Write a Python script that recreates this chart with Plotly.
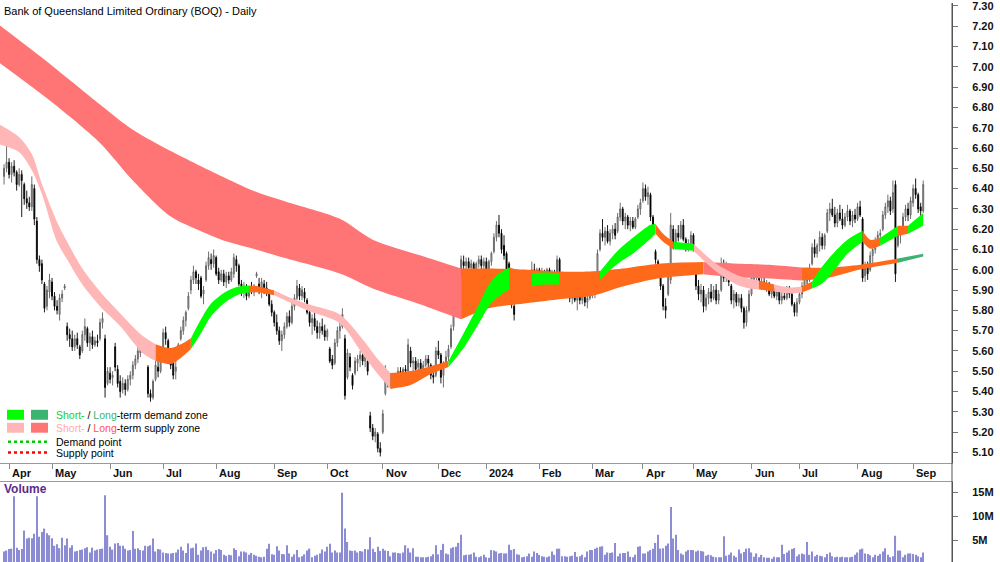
import plotly.graph_objects as go

TITLE = "Bank of Queensland Limited Ordinary (BOQ) - Daily"

# ---------------- axis categories ----------------
month_labels = ["Apr", "May", "Jun", "Jul", "Aug", "Sep", "Oct", "Nov", "Dec",
                "2024", "Feb", "Mar", "Apr", "May", "Jun", "Jul", "Aug", "Sep"]
month_start = [2, 19, 42, 63, 84, 107, 128, 150, 172, 191, 212, 233, 253, 273, 296, 315, 338, 360]

# ---------------- daily prices (trading-day index 0 = 30 Mar 2023) ----------------
opens = [
    6.46, 6.50, 6.53, 6.47, 6.51, 6.48, 6.42, 6.47, 6.42, 6.35,
    6.33, 6.31, 6.40, 6.24, 6.05, 6.03, 5.93, 5.82, 5.89, 5.94,
    5.87, 5.82, 5.78, 5.86, 5.91, 5.72, 5.68, 5.66, 5.62, 5.66,
    5.62, 5.60, 5.68, 5.71, 5.64, 5.67, 5.63, 5.65, 5.66, 5.74,
    5.66, 5.44, 5.49, 5.47, 5.62, 5.51, 5.45, 5.41, 5.44, 5.41,
    5.46, 5.48, 5.53, 5.56, 5.59, 5.61, 5.63, 5.52, 5.39, 5.37,
    5.46, 5.52, 5.50, 5.59, 5.69, 5.65, 5.59, 5.54, 5.50, 5.62,
    5.66, 5.70, 5.75, 5.81, 5.90, 5.95, 5.99, 5.95, 5.96, 5.88,
    5.95, 6.02, 6.05, 6.03, 6.06, 5.99, 5.95, 5.98, 5.94, 5.97,
    5.95, 5.98, 6.05, 6.02, 5.93, 5.90, 5.92, 5.87, 5.91, 5.89,
    5.97, 5.93, 5.90, 5.93, 5.91, 5.89, 5.83, 5.79, 5.74, 5.70,
    5.65, 5.68, 5.72, 5.77, 5.74, 5.82, 5.86, 5.91, 5.87, 5.89,
    5.85, 5.79, 5.74, 5.76, 5.72, 5.69, 5.72, 5.70, 5.67, 5.61,
    5.56, 5.54, 5.64, 5.70, 5.72, 5.66, 5.47, 5.57, 5.48, 5.49,
    5.54, 5.56, 5.58, 5.55, 5.55, 5.28, 5.22, 5.18, 5.19, 5.12,
    5.20, 5.39, 5.48, 5.45, 5.47, 5.44, 5.48, 5.50, 5.48, 5.51,
    5.50, 5.60, 5.54, 5.55, 5.52, 5.54, 5.51, 5.53, 5.56, 5.53,
    5.48, 5.48, 5.60, 5.58, 5.48, 5.53, 5.57, 5.62, 5.72, 5.82,
    5.90, 5.97, 6.04, 6.02, 6.04, 6.01, 6.03, 5.99, 6.03, 6.05,
    6.02, 6.04, 6.00, 6.04, 6.09, 6.16, 6.22, 6.18, 6.12, 6.08,
    6.03, 5.90, 5.82, 5.86, 5.95, 5.90, 5.93, 5.89, 5.92, 5.94,
    6.00, 5.97, 6.00, 5.96, 5.99, 5.96, 6.00, 5.95, 5.98, 5.97,
    6.05, 5.98, 5.92, 5.88, 5.91, 5.86, 5.88, 5.85, 5.88, 5.85,
    5.87, 5.84, 5.86, 5.89, 5.91, 5.96, 6.10, 6.18, 6.16, 6.19,
    6.14, 6.18, 6.20, 6.19, 6.26, 6.30, 6.24, 6.26, 6.22, 6.24,
    6.21, 6.26, 6.30, 6.34, 6.40, 6.36, 6.37, 6.26, 6.09, 6.04,
    5.98, 5.92, 5.82, 5.88, 5.95, 6.20, 6.13, 6.18, 6.16, 6.22,
    6.15, 6.11, 6.13, 6.17, 5.98, 5.92, 5.88, 5.90, 5.82, 5.86,
    5.89, 5.86, 5.90, 5.85, 5.90, 6.03, 5.96, 6.01, 5.92, 5.85,
    5.88, 5.84, 5.86, 5.81, 5.74, 5.80, 5.88, 5.97, 5.96, 5.98,
    5.93, 5.94, 5.91, 5.93, 5.88, 5.90, 5.87, 5.89, 5.85, 5.87,
    5.86, 5.90, 5.88, 5.83, 5.79, 5.84, 5.88, 5.92, 5.97, 5.95,
    6.03, 6.11, 6.08, 6.12, 6.16, 6.12, 6.19, 6.28, 6.30, 6.27,
    6.23, 6.28, 6.25, 6.22, 6.26, 6.29, 6.24, 6.27, 6.25, 6.31,
    6.25, 5.97, 6.01, 6.00, 6.07, 6.10, 6.14, 6.17, 6.20, 6.27,
    6.31, 6.34, 6.30, 6.42, 6.12, 6.17, 6.20, 6.26, 6.30, 6.27,
    6.33, 6.40, 6.37, 6.31, 6.29,
]
highs = [
    6.52, 6.65, 6.55, 6.53, 6.54, 6.49, 6.50, 6.49, 6.43, 6.39,
    6.36, 6.46, 6.42, 6.26, 6.07, 6.05, 5.94, 5.92, 5.98, 5.96,
    5.89, 5.85, 5.88, 5.90, 5.93, 5.74, 5.71, 5.70, 5.68, 5.69,
    5.63, 5.70, 5.76, 5.72, 5.69, 5.70, 5.67, 5.68, 5.76, 5.79,
    5.68, 5.52, 5.52, 5.50, 5.64, 5.53, 5.48, 5.47, 5.46, 5.48,
    5.50, 5.55, 5.58, 5.62, 5.63, 5.65, 5.66, 5.53, 5.41, 5.46,
    5.55, 5.58, 5.60, 5.71, 5.72, 5.66, 5.60, 5.55, 5.56, 5.64,
    5.72, 5.77, 5.80, 5.89, 5.97, 6.02, 6.00, 5.98, 5.97, 5.92,
    6.04, 6.09, 6.08, 6.10, 6.07, 6.01, 6.00, 6.00, 5.99, 5.99,
    6.01, 6.08, 6.07, 6.03, 5.95, 5.94, 5.93, 5.92, 5.94, 5.93,
    5.99, 5.96, 5.96, 5.95, 5.94, 5.90, 5.85, 5.80, 5.78, 5.72,
    5.70, 5.74, 5.79, 5.80, 5.84, 5.88, 5.95, 5.93, 5.92, 5.91,
    5.86, 5.80, 5.78, 5.79, 5.75, 5.74, 5.76, 5.73, 5.71, 5.62,
    5.58, 5.66, 5.72, 5.74, 5.81, 5.68, 5.61, 5.59, 5.49, 5.57,
    5.58, 5.60, 5.61, 5.59, 5.56, 5.30, 5.24, 5.22, 5.20, 5.15,
    5.31, 5.53, 5.50, 5.49, 5.49, 5.49, 5.52, 5.52, 5.52, 5.53,
    5.66, 5.62, 5.57, 5.57, 5.56, 5.56, 5.55, 5.58, 5.58, 5.54,
    5.51, 5.62, 5.65, 5.59, 5.55, 5.60, 5.63, 5.73, 5.82, 5.92,
    5.97, 6.07, 6.07, 6.06, 6.06, 6.05, 6.04, 6.04, 6.07, 6.07,
    6.06, 6.06, 6.05, 6.09, 6.18, 6.24, 6.27, 6.20, 6.17, 6.09,
    6.04, 5.92, 5.84, 5.97, 5.98, 5.96, 5.96, 5.94, 5.95, 6.04,
    6.03, 6.01, 6.01, 6.01, 6.00, 6.01, 6.01, 6.00, 6.00, 6.07,
    6.06, 5.98, 5.95, 5.93, 5.93, 5.90, 5.91, 5.90, 5.90, 5.89,
    5.89, 5.88, 5.91, 5.93, 5.93, 6.10, 6.20, 6.25, 6.21, 6.22,
    6.20, 6.22, 6.23, 6.28, 6.33, 6.31, 6.28, 6.27, 6.26, 6.26,
    6.26, 6.32, 6.35, 6.43, 6.42, 6.41, 6.38, 6.27, 6.10, 6.05,
    6.00, 5.93, 5.86, 6.03, 6.28, 6.22, 6.20, 6.22, 6.24, 6.25,
    6.16, 6.15, 6.19, 6.18, 5.99, 5.95, 5.93, 5.92, 5.88, 5.91,
    5.93, 5.92, 5.93, 5.90, 6.06, 6.05, 6.04, 6.03, 5.93, 5.90,
    5.89, 5.88, 5.88, 5.82, 5.82, 5.90, 6.00, 6.00, 6.00, 5.99,
    5.96, 5.96, 5.95, 5.94, 5.92, 5.91, 5.91, 5.90, 5.89, 5.91,
    5.92, 5.92, 5.89, 5.84, 5.86, 5.90, 5.94, 5.99, 6.01, 6.03,
    6.13, 6.15, 6.13, 6.19, 6.18, 6.18, 6.30, 6.33, 6.35, 6.31,
    6.30, 6.32, 6.30, 6.28, 6.32, 6.30, 6.29, 6.30, 6.33, 6.34,
    6.26, 6.04, 6.04, 6.09, 6.12, 6.16, 6.19, 6.20, 6.29, 6.33,
    6.37, 6.36, 6.44, 6.44, 6.20, 6.21, 6.28, 6.32, 6.33, 6.36,
    6.42, 6.45, 6.38, 6.33, 6.44,
]
lows = [
    6.42, 6.48, 6.45, 6.43, 6.46, 6.39, 6.41, 6.26, 6.32, 6.30,
    6.29, 6.29, 6.22, 6.03, 5.99, 5.93, 5.79, 5.80, 5.86, 5.85,
    5.80, 5.78, 5.75, 5.84, 5.90, 5.65, 5.62, 5.60, 5.60, 5.61,
    5.56, 5.59, 5.65, 5.62, 5.60, 5.61, 5.62, 5.62, 5.65, 5.71,
    5.37, 5.43, 5.44, 5.43, 5.50, 5.42, 5.37, 5.39, 5.38, 5.40,
    5.43, 5.46, 5.51, 5.54, 5.57, 5.59, 5.60, 5.37, 5.35, 5.36,
    5.45, 5.47, 5.49, 5.58, 5.63, 5.57, 5.51, 5.46, 5.46, 5.61,
    5.65, 5.68, 5.72, 5.80, 5.88, 5.93, 5.93, 5.90, 5.86, 5.83,
    5.94, 6.00, 6.00, 6.01, 5.97, 5.93, 5.94, 5.92, 5.91, 5.93,
    5.94, 5.96, 5.99, 5.92, 5.87, 5.86, 5.85, 5.86, 5.88, 5.87,
    5.96, 5.88, 5.86, 5.88, 5.87, 5.82, 5.77, 5.72, 5.68, 5.63,
    5.60, 5.66, 5.71, 5.72, 5.73, 5.80, 5.85, 5.85, 5.85, 5.84,
    5.78, 5.72, 5.68, 5.70, 5.66, 5.66, 5.68, 5.65, 5.65, 5.54,
    5.51, 5.53, 5.62, 5.66, 5.71, 5.36, 5.46, 5.50, 5.41, 5.48,
    5.50, 5.52, 5.53, 5.52, 5.48, 5.20, 5.16, 5.15, 5.10, 5.08,
    5.19, 5.38, 5.42, 5.42, 5.43, 5.43, 5.46, 5.46, 5.47, 5.48,
    5.49, 5.52, 5.50, 5.49, 5.50, 5.49, 5.49, 5.52, 5.52, 5.46,
    5.44, 5.47, 5.56, 5.44, 5.42, 5.52, 5.55, 5.61, 5.70, 5.80,
    5.86, 5.96, 5.99, 5.98, 6.00, 5.99, 5.98, 5.98, 6.01, 6.00,
    6.00, 5.99, 5.98, 6.02, 6.08, 6.14, 6.16, 6.08, 6.05, 5.98,
    5.88, 5.81, 5.75, 5.85, 5.88, 5.86, 5.87, 5.87, 5.88, 5.93,
    5.95, 5.94, 5.94, 5.95, 5.94, 5.95, 5.94, 5.94, 5.94, 5.97,
    5.98, 5.90, 5.86, 5.86, 5.84, 5.83, 5.84, 5.80, 5.83, 5.83,
    5.82, 5.81, 5.85, 5.86, 5.86, 5.95, 6.09, 6.14, 6.12, 6.13,
    6.12, 6.15, 6.15, 6.18, 6.24, 6.22, 6.20, 6.20, 6.19, 6.20,
    6.20, 6.25, 6.27, 6.33, 6.34, 6.32, 6.24, 6.18, 6.03, 5.96,
    5.90, 5.80, 5.76, 5.87, 5.93, 6.10, 6.10, 6.14, 6.15, 6.14,
    6.09, 6.09, 6.11, 6.09, 5.90, 5.85, 5.84, 5.79, 5.80, 5.83,
    5.84, 5.85, 5.83, 5.83, 5.89, 5.94, 5.94, 5.92, 5.83, 5.81,
    5.82, 5.82, 5.79, 5.71, 5.72, 5.79, 5.87, 5.94, 5.93, 5.91,
    5.90, 5.90, 5.89, 5.87, 5.86, 5.86, 5.85, 5.83, 5.83, 5.85,
    5.85, 5.86, 5.82, 5.77, 5.77, 5.83, 5.86, 5.91, 5.93, 5.94,
    6.02, 6.06, 6.06, 6.09, 6.10, 6.10, 6.18, 6.24, 6.26, 6.21,
    6.21, 6.24, 6.20, 6.21, 6.24, 6.22, 6.21, 6.23, 6.24, 6.26,
    5.94, 5.94, 5.95, 5.99, 6.03, 6.08, 6.12, 6.13, 6.19, 6.25,
    6.28, 6.27, 6.28, 5.94, 6.11, 6.13, 6.19, 6.24, 6.24, 6.25,
    6.31, 6.35, 6.28, 6.26, 6.28,
]
closes = [
    6.50, 6.53, 6.47, 6.51, 6.48, 6.42, 6.47, 6.44, 6.35, 6.33,
    6.31, 6.42, 6.25, 6.05, 6.02, 5.95, 5.81, 5.90, 5.95, 5.87,
    5.82, 5.80, 5.86, 5.88, 5.92, 5.68, 5.66, 5.62, 5.66, 5.63,
    5.58, 5.68, 5.72, 5.64, 5.67, 5.63, 5.65, 5.64, 5.74, 5.76,
    5.42, 5.50, 5.46, 5.48, 5.52, 5.44, 5.40, 5.44, 5.41, 5.46,
    5.48, 5.53, 5.56, 5.60, 5.61, 5.63, 5.62, 5.39, 5.37, 5.45,
    5.53, 5.50, 5.58, 5.69, 5.66, 5.59, 5.53, 5.48, 5.52, 5.63,
    5.70, 5.75, 5.79, 5.87, 5.95, 5.99, 5.96, 5.93, 5.87, 5.90,
    6.02, 6.06, 6.03, 6.07, 5.98, 5.95, 5.98, 5.94, 5.97, 5.95,
    5.99, 6.06, 6.02, 5.93, 5.90, 5.92, 5.87, 5.91, 5.89, 5.92,
    5.98, 5.90, 5.94, 5.91, 5.89, 5.83, 5.79, 5.74, 5.70, 5.65,
    5.68, 5.72, 5.77, 5.74, 5.82, 5.86, 5.92, 5.87, 5.90, 5.86,
    5.79, 5.74, 5.76, 5.72, 5.69, 5.72, 5.70, 5.67, 5.70, 5.55,
    5.53, 5.64, 5.70, 5.72, 5.78, 5.38, 5.59, 5.52, 5.43, 5.55,
    5.56, 5.58, 5.55, 5.57, 5.50, 5.22, 5.18, 5.20, 5.12, 5.10,
    5.29, 5.50, 5.45, 5.47, 5.44, 5.48, 5.50, 5.48, 5.51, 5.50,
    5.63, 5.54, 5.55, 5.51, 5.54, 5.50, 5.53, 5.56, 5.54, 5.48,
    5.47, 5.60, 5.58, 5.47, 5.53, 5.57, 5.61, 5.71, 5.80, 5.90,
    5.95, 6.05, 6.02, 6.04, 6.01, 6.03, 5.99, 6.03, 6.05, 6.02,
    6.04, 6.00, 6.04, 6.08, 6.16, 6.22, 6.18, 6.10, 6.07, 6.00,
    5.90, 5.83, 5.78, 5.95, 5.90, 5.93, 5.89, 5.92, 5.90, 6.00,
    5.97, 6.00, 5.96, 5.99, 5.96, 6.00, 5.95, 5.98, 5.97, 6.05,
    5.99, 5.92, 5.88, 5.91, 5.86, 5.88, 5.85, 5.88, 5.85, 5.87,
    5.84, 5.86, 5.89, 5.91, 5.92, 6.08, 6.18, 6.16, 6.19, 6.14,
    6.18, 6.20, 6.17, 6.26, 6.30, 6.24, 6.26, 6.22, 6.24, 6.21,
    6.25, 6.30, 6.33, 6.40, 6.36, 6.38, 6.26, 6.20, 6.05, 5.98,
    5.92, 5.82, 5.80, 6.00, 6.22, 6.13, 6.18, 6.16, 6.22, 6.15,
    6.11, 6.13, 6.17, 6.10, 5.92, 5.88, 5.90, 5.82, 5.86, 5.89,
    5.86, 5.90, 5.85, 5.88, 6.03, 5.96, 6.01, 5.94, 5.85, 5.88,
    5.84, 5.86, 5.81, 5.74, 5.80, 5.88, 5.98, 5.96, 5.98, 5.93,
    5.94, 5.91, 5.93, 5.88, 5.90, 5.87, 5.89, 5.85, 5.87, 5.86,
    5.90, 5.88, 5.83, 5.79, 5.84, 5.88, 5.92, 5.97, 5.95, 6.01,
    6.11, 6.08, 6.12, 6.16, 6.12, 6.17, 6.28, 6.30, 6.27, 6.23,
    6.28, 6.25, 6.22, 6.26, 6.29, 6.24, 6.27, 6.25, 6.31, 6.27,
    5.96, 6.01, 5.98, 6.07, 6.10, 6.14, 6.17, 6.18, 6.27, 6.31,
    6.34, 6.29, 6.38, 5.98, 6.17, 6.19, 6.26, 6.30, 6.27, 6.34,
    6.40, 6.37, 6.30, 6.29, 6.42,
]
volume_m = [
    2.6, 2.8, 3.1, 3.2, 14.2, 3.4, 2.9, 3.1, 7.0, 5.3,
    5.5, 5.4, 6.3, 14.2, 5.7, 6.7, 7.4, 6.4, 6.0, 5.4,
    3.8, 4.1, 3.3, 5.5, 3.9, 5.3, 3.4, 3.9, 2.6, 2.7,
    2.9, 3.0, 3.3, 3.5, 2.4, 3.4, 2.8, 3.0, 3.1, 3.2,
    14.4, 6.0, 3.6, 3.0, 4.3, 4.4, 3.8, 3.8, 3.2, 2.8,
    2.9, 6.9, 3.2, 3.3, 2.9, 2.8, 3.8, 3.7, 3.9, 5.3,
    2.6, 3.1, 3.0, 2.4, 2.3, 2.2, 2.2, 2.3, 2.4, 3.0,
    3.6, 2.8, 2.3, 4.3, 3.3, 3.4, 4.3, 1.9, 2.8, 3.5,
    3.6, 2.9, 2.6, 2.2, 2.9, 3.1, 2.9, 1.9, 1.7, 1.9,
    1.8, 3.3, 2.9, 1.6, 2.6, 2.6, 2.4, 1.9, 2.3, 1.9,
    1.7, 1.5, 1.4, 1.5, 3.2, 4.2, 2.0, 1.9, 3.7, 2.8,
    2.1, 2.0, 3.9, 2.2, 1.5, 2.0, 2.9, 1.4, 1.6, 2.0,
    2.8, 3.2, 1.4, 1.7, 1.9, 2.2, 3.0, 2.6, 3.6, 4.2,
    2.4, 2.8, 2.4, 2.4, 14.9, 7.4, 4.6, 2.8, 2.7, 2.8,
    2.4, 2.7, 2.6, 3.1, 3.0, 5.6, 3.2, 2.5, 3.6, 2.7,
    3.2, 2.8, 2.7, 1.6, 2.4, 2.4, 2.3, 2.2, 2.4, 3.9,
    3.3, 2.4, 3.3, 1.5, 1.5, 1.4, 1.4, 1.4, 1.5, 1.6,
    2.0, 3.9, 2.0, 2.9, 4.2, 2.2, 2.0, 3.3, 3.5, 3.6,
    4.4, 6.1, 1.8, 1.9, 1.9, 2.0, 2.4, 1.5, 1.4, 1.6,
    1.9, 1.4, 1.3, 2.9, 2.8, 2.6, 2.2, 2.3, 2.2, 2.2,
    4.0, 2.9, 3.1, 2.0, 1.9, 1.4, 1.5, 1.6, 2.2, 1.5,
    2.6, 2.3, 1.9, 1.6, 1.5, 1.4, 1.6, 2.6, 1.9, 3.2,
    3.2, 1.6, 1.6, 1.5, 1.6, 1.7, 2.5, 1.5, 1.6, 1.9,
    1.4, 2.6, 2.9, 2.9, 3.2, 3.4, 3.6, 3.7, 1.9, 2.4,
    2.3, 2.4, 4.4, 1.6, 2.2, 2.3, 2.3, 2.6, 1.5, 1.4,
    1.9, 3.6, 3.7, 2.2, 2.2, 2.6, 2.9, 3.2, 4.4, 6.1,
    3.2, 3.3, 3.8, 4.3, 11.9, 5.3, 6.1, 2.9, 2.2, 1.9,
    2.6, 2.9, 2.9, 2.9, 2.6, 2.8, 2.7, 2.6, 1.7, 1.9,
    1.8, 1.5, 1.4, 1.4, 1.4, 5.8, 1.7, 1.9, 2.4, 1.7,
    1.4, 3.0, 2.2, 2.5, 3.2, 3.3, 2.4, 1.5, 2.2, 1.4,
    1.9, 1.4, 1.3, 1.3, 1.1, 1.5, 1.4, 1.4, 4.0, 2.1,
    2.4, 2.8, 3.1, 3.3, 1.6, 2.0, 2.2, 2.0, 4.6, 1.9,
    2.6, 1.6, 1.9, 1.7, 1.6, 1.4, 2.1, 2.4, 1.6, 1.4,
    1.5, 1.4, 1.5, 1.4, 1.4, 1.4, 1.5, 1.9, 2.4, 3.0,
    3.2, 2.2, 2.1, 1.8, 1.4, 1.9, 1.7, 2.1, 2.6, 3.3,
    1.9, 1.4, 1.6, 5.9, 2.8, 2.8, 1.4, 1.9, 2.2, 2.2,
    2.1, 1.9, 1.6, 1.4, 2.4,
]

# ---------------- zone ribbons (read at sample days) ----------------
# zone codes per segment: S = supply, D = demand, N = neutral/overlap
long_idx = [-2, 19, 38, 51, 66, 78, 88, 100, 112, 133, 146, 165, 181, 192, 206, 219,
            232, 245, 259, 277, 291, 303, 316, 327, 339, 354, 364]
long_top = [7.207, 7.006, 6.815, 6.690, 6.585, 6.510, 6.450, 6.383, 6.334, 6.251, 6.148,
            6.070, 6.006, 6.006, 6.001, 5.991, 5.991, 6.006, 6.030, 6.038, 6.030, 6.025,
            6.011, 6.011, 6.025, 6.055, 6.079]
long_bot = [7.021, 6.825, 6.625, 6.440, 6.262, 6.190, 6.140, 6.099, 6.055, 5.981, 5.908,
            5.829, 5.756, 5.810, 5.834, 5.854, 5.869, 5.918, 5.957, 5.978, 5.962, 5.957,
            5.947, 5.962, 6.001, 6.035, 6.065]
long_zone = ["S", "S", "S", "S", "S", "S", "S", "S", "S", "S", "S", "S",
             "N", "N", "N", "N", "N", "N", "N",
             "S", "S", "S",
             "N", "N", "N",
             "D"]

short_idx = [-2, 6, 11, 15, 21, 25, 31, 38, 46, 55, 60, 66, 70, 74, 78, 82, 88, 93, 97,
             101, 107, 114, 121, 133, 142, 148, 153, 161, 169, 176, 182, 189, 192, 196,
             200, 209, 214, 220, 228, 236, 243, 249, 256, 258, 261, 265, 273, 282, 290,
             295, 299, 305, 311, 316, 320, 324, 329, 334, 340, 343, 347, 354, 358, 364]
short_top = [6.717, 6.653, 6.570, 6.423, 6.236, 6.138, 6.006, 5.893, 5.785, 5.673, 5.633,
             5.614, 5.633, 5.663, 5.756, 5.834, 5.893, 5.918, 5.923, 5.918, 5.898, 5.859,
             5.829, 5.780, 5.658, 5.560, 5.491, 5.501, 5.525, 5.550, 5.687, 5.854, 5.927,
             5.981, 6.011, 5.981, 5.986, 5.981, 5.976, 5.991, 6.094, 6.158, 6.222, 6.226,
             6.177, 6.138, 6.128, 6.030, 5.976, 5.957, 5.947, 5.927, 5.913, 5.918, 5.942,
             6.016, 6.089, 6.148, 6.192, 6.148, 6.158, 6.217, 6.217, 6.280]
short_bot = [6.619, 6.579, 6.491, 6.374, 6.138, 6.050, 5.927, 5.820, 5.722, 5.589, 5.550,
             5.535, 5.565, 5.609, 5.687, 5.771, 5.844, 5.878, 5.888, 5.888, 5.874, 5.834,
             5.795, 5.736, 5.584, 5.486, 5.413, 5.432, 5.486, 5.521, 5.614, 5.756, 5.820,
             5.869, 5.903, 5.918, 5.927, 5.927, 5.927, 5.952, 6.030, 6.079, 6.153, 6.177,
             6.138, 6.104, 6.094, 5.991, 5.927, 5.908, 5.903, 5.893, 5.883, 5.888, 5.908,
             5.932, 6.001, 6.079, 6.138, 6.104, 6.118, 6.168, 6.177, 6.217]
short_zone = ["S", "S", "S", "S", "S", "S", "S", "S", "S", "S",
              "N", "N", "N",
              "D", "D", "D", "D", "D",
              "N", "N",
              "S", "S", "S", "S", "S", "S",
              "N", "N", "N",
              "D", "D", "D", "D", "D",
              "N",
              "D", "D",
              "N", "N",
              "D", "D", "D", "D",
              "N", "N",
              "D",
              "S", "S", "S", "S",
              "N",
              "S", "S",
              "N",
              "D", "D", "D", "D",
              "N", "N",
              "D",
              "N",
              "D"]

SHORT_COL = {"S": "#FFB6B6", "D": "#00FF00", "N": "#FF6A1A"}
LONG_COL = {"S": "#FF7575", "D": "#3CB371", "N": "#FF6A1A"}

# ---------------- layout geometry ----------------
W, H = 1000, 562
PLOT_W = 952
X_RANGE = [-1.6, 375.4]


def px(v):
    return v / PLOT_W


def py(v):
    return 1 - v / H


n = min(len(opens), len(highs), len(lows), len(closes), len(volume_m))
x_idx = list(range(n))

fig = go.Figure()


def add_ribbon(idx, top, bot, zones, cols):
    k = 0
    while k < len(zones):
        j = k
        while j + 1 < len(zones) and zones[j + 1] == zones[k]:
            j += 1
        xs = idx[k:j + 2]
        fig.add_trace(go.Scatter(x=xs, y=bot[k:j + 2], mode="lines",
                                 line=dict(width=0, shape="spline", smoothing=0.8),
                                 hoverinfo="skip", showlegend=False))
        fig.add_trace(go.Scatter(x=xs, y=top[k:j + 2], mode="lines",
                                 line=dict(width=0, shape="spline", smoothing=0.8),
                                 fill="tonexty", fillcolor=cols[zones[k]],
                                 hoverinfo="skip", showlegend=False))
        k = j + 1


add_ribbon(long_idx, long_top, long_bot, long_zone, LONG_COL)
add_ribbon(short_idx, short_top, short_bot, short_zone, SHORT_COL)

fig.add_trace(go.Candlestick(
    x=x_idx, open=opens[:n], high=highs[:n], low=lows[:n], close=closes[:n],
    increasing=dict(line=dict(color="#5E5E5E", width=0.9), fillcolor="#C4C4C4"),
    decreasing=dict(line=dict(color="#000000", width=0.9), fillcolor="#000000"),
    whiskerwidth=0, showlegend=False))

fig.add_trace(go.Bar(x=x_idx, y=volume_m[:n], width=0.5,
                     marker=dict(color="#8C8CD4", line=dict(width=0)),
                     xaxis="x2", yaxis="y2", showlegend=False))

tick_font = dict(family="Liberation Sans, Arial", size=11, color="#111111", weight="bold")

fig.update_layout(
    width=W, height=H,
    margin=dict(l=0, r=W - PLOT_W, t=0, b=0),
    paper_bgcolor="white", plot_bgcolor="white",
    showlegend=False, boxgap=0.45,
    xaxis=dict(domain=[0, 1], range=X_RANGE, anchor="y",
               tickvals=month_start, ticks="outside", ticklen=5, tickcolor="#8A8A8A",
               showticklabels=False, showgrid=False, zeroline=False,
               showline=True, linecolor="#9A9A9A", linewidth=1,
               rangeslider=dict(visible=False)),
    yaxis=dict(domain=[py(462), 1], range=[5.050, 7.3147], side="right",
               tick0=5.1, dtick=0.1, tickformat=".2f",
               ticks="outside", ticklen=5, tickcolor="#777777",
               showline=True, linecolor="#555555", linewidth=1,
               showgrid=False, zeroline=False, tickfont=tick_font,
               ticklabelstandoff=12, ticklabeloverflow="allow"),
    xaxis2=dict(domain=[0, 1], range=X_RANGE, anchor="y2", matches="x", side="top",
                showticklabels=False, ticks="", showgrid=False, zeroline=False,
                showline=True, linecolor="#9A9A9A", linewidth=1),
    yaxis2=dict(domain=[0, py(482)], range=[0.4, 17.07], side="right",
                tickvals=[5, 10, 15], ticktext=["5M", "10M", "15M"],
                ticks="outside", ticklen=5, tickcolor="#777777",
                showline=True, linecolor="#555555", linewidth=1,
                showgrid=False, zeroline=False, tickfont=tick_font,
                ticklabelstandoff=12, ticklabeloverflow="allow"),
)

# right edge line through the month band
fig.add_shape(type="line", xref="paper", yref="paper", x0=1, x1=1, y0=0, y1=1,
              line=dict(color="#555555", width=1))

# month labels
for xi, lab in zip(month_start, month_labels):
    fig.add_annotation(x=xi, y=py(473), xref="x", yref="paper", text="<b>" + lab + "</b>",
                       showarrow=False, xanchor="left", yanchor="middle", xshift=1,
                       font=dict(family="Liberation Sans Narrow, Liberation Sans, Arial",
                                 size=11, color="#111111"))

# title and volume label
fig.add_annotation(x=px(2), y=py(8), xref="paper", yref="paper", text=TITLE,
                   showarrow=False, xanchor="left", yanchor="middle",
                   font=dict(family="Liberation Sans, Arial", size=11, color="#000000"))
fig.add_annotation(x=px(2), y=py(489), xref="paper", yref="paper", text="<b>Volume</b>",
                   showarrow=False, xanchor="left", yanchor="middle",
                   font=dict(family="Liberation Sans, Arial", size=12, color="#5B2C8A"))

# zone legend
legend_boxes = [
    (7, 24, 409, 419, "#00FF00"), (31, 48, 409, 419, "#3CB371"),
    (7, 24, 422, 432, "#FFB6B6"), (31, 48, 422, 432, "#FF7575"),
]
for x0, x1, y0, y1, col in legend_boxes:
    fig.add_shape(type="rect", xref="paper", yref="paper",
                  x0=px(x0), x1=px(x1), y0=py(y1), y1=py(y0),
                  fillcolor=col, line=dict(width=0))
fig.add_shape(type="line", xref="paper", yref="paper", x0=px(8), x1=px(48),
              y0=py(441), y1=py(441), line=dict(color="#00CC00", width=2.5, dash="dot"))
fig.add_shape(type="line", xref="paper", yref="paper", x0=px(8), x1=px(48),
              y0=py(452), y1=py(452), line=dict(color="#FF0000", width=2.5, dash="dot"))

legend_rows = [
    (414, '<span style="color:#22CC22">Short-</span> / <span style="color:#3CB371">Long</span>-term demand zone'),
    (427, '<span style="color:#FFAAAA">Short-</span> / <span style="color:#FF5555">Long</span>-term supply zone'),
    (441, "Demand point"),
    (452, "Supply point"),
]
for yy, txt in legend_rows:
    fig.add_annotation(x=px(54), y=py(yy), xref="paper", yref="paper", text=txt,
                       showarrow=False, xanchor="left", yanchor="middle",
                       font=dict(family="Liberation Sans, Arial", size=10.5, color="#000000"))

fig.write_html("out.html")
